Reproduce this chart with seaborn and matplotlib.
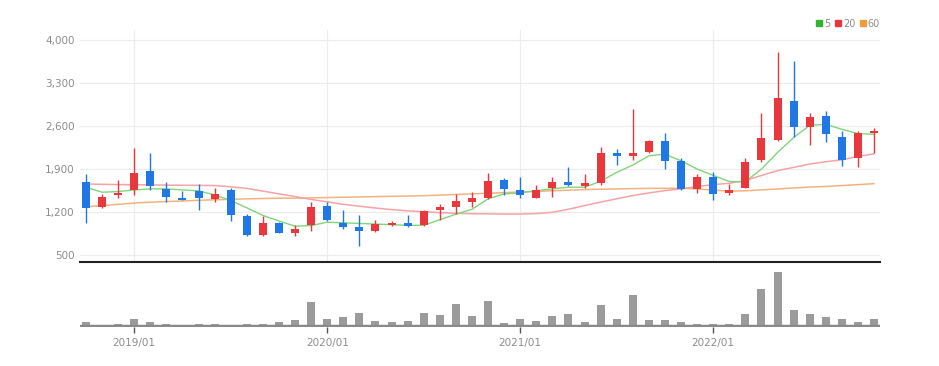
"""Monthly candlestick chart with moving averages and volume."""

import matplotlib

matplotlib.use("Agg")
import matplotlib.pyplot as plt
import numpy as np
import pandas as pd
import seaborn as sns
from matplotlib.lines import Line2D

months = [str(p).replace("-", "/") for p in pd.period_range("2018-10", periods=50, freq="M")]

open_ = [1690, 1285, 1485, 1560, 1875, 1575, 1425, 1550, 1420, 1555,
         1140, 830, 1030, 870, 1000, 1310, 1030, 965, 905, 995,
         1020, 990, 1230, 1285, 1375, 1430, 1730, 1555, 1435, 1590,
         1690, 1635, 1670, 2160, 2120, 2175, 2360, 2035, 1580, 1770,
         1510, 1595, 2050, 2375, 3015, 2590, 2765, 2415, 2080, 2495]
high = [1820, 1500, 1730, 2250, 2160, 1690, 1540, 1660, 1590, 1590,
        1175, 1140, 1040, 990, 1365, 1365, 1230, 1165, 1070, 1060,
        1165, 1240, 1340, 1500, 1525, 1840, 1760, 1770, 1650, 1770,
        1940, 1830, 2265, 2235, 2870, 2375, 2495, 2090, 1820, 1850,
        1660, 2090, 2820, 3810, 3650, 2805, 2845, 2520, 2520, 2575]
low = [1020, 1270, 1430, 1475, 1555, 1365, 1400, 1245, 1365, 1060,
       815, 815, 860, 815, 890, 1055, 935, 650, 880, 975,
       955, 975, 1070, 1180, 1285, 1420, 1475, 1435, 1435, 1445,
       1635, 1590, 1650, 1970, 2055, 2170, 1905, 1570, 1515, 1400,
       1475, 1590, 2020, 2360, 2425, 2295, 2345, 1955, 1940, 2160]
close = [1270, 1455, 1510, 1845, 1635, 1445, 1405, 1425, 1490, 1165,
         830, 1035, 865, 935, 1285, 1080, 955, 905, 1005, 1030,
         975, 1220, 1285, 1380, 1430, 1715, 1580, 1475, 1555, 1690,
         1650, 1670, 2160, 2120, 2160, 2360, 2035, 1580, 1770, 1500,
         1570, 2025, 2405, 3050, 2590, 2755, 2470, 2050, 2480, 2520]

ma5 = [1608, 1527, 1537, 1564, 1581, 1581, 1564, 1548, 1484, 1392,
       1274, 1150, 1060, 975, 985, 1040, 1030, 1020, 1010, 1000,
       990, 990, 1080, 1170, 1250, 1419, 1500, 1516, 1553, 1581,
       1608, 1608, 1705, 1850, 1968, 2118, 2145, 2037, 1903, 1800,
       1700, 1698, 1903, 2172, 2414, 2613, 2629, 2548, 2479, 2468]
ma20 = [1660, 1655, 1650, 1648, 1645, 1642, 1640, 1638, 1635, 1615,
        1590, 1545, 1500, 1457, 1410, 1370, 1330, 1300, 1270, 1245,
        1225, 1210, 1195, 1185, 1178, 1175, 1172, 1172, 1180, 1200,
        1250, 1310, 1366, 1420, 1473, 1515, 1553, 1581, 1620, 1650,
        1672, 1715, 1800, 1876, 1930, 1984, 2021, 2053, 2108, 2150]
ma60 = [1290, 1310, 1330, 1350, 1365, 1375, 1385, 1395, 1405, 1410,
        1420, 1425, 1430, 1430, 1435, 1440, 1445, 1450, 1455, 1460,
        1465, 1470, 1480, 1490, 1500, 1510, 1520, 1530, 1540, 1550,
        1560, 1570, 1575, 1580, 1585, 1590, 1590, 1590, 1580, 1560,
        1545, 1550, 1565, 1580, 1595, 1610, 1620, 1635, 1650, 1665]

volume = [40000, 5000, 23000, 67000, 37000, 23000, 3000, 17000, 17000, 3000,
          23000, 23000, 37000, 57000, 240000, 73000, 90000, 133000, 53000, 37000,
          53000, 133000, 107000, 223000, 100000, 250000, 33000, 73000, 50000, 100000,
          117000, 40000, 207000, 73000, 307000, 57000, 57000, 40000, 20000, 20000,
          20000, 123000, 373000, 540000, 157000, 123000, 90000, 67000, 40000, 73000]

year_ticks = ["2019/01", "2020/01", "2021/01", "2022/01"]
price_ticks = [500, 1200, 1900, 2600, 3300, 4000]

UP, DOWN = "#e8383d", "#1f78e6"
LABEL = "#8c8c8c"

sns.set_theme(style="white")
plt.rcParams["font.family"] = ["Liberation Sans Narrow", "DejaVu Sans"]

idx = np.arange(len(months))
df = pd.DataFrame({"i": idx, "open": open_, "high": high, "low": low,
                   "close": close, "ma5": ma5, "ma20": ma20, "ma60": ma60,
                   "volume": volume})
up = df["close"] >= df["open"]
colors = np.where(up, UP, DOWN)

W, H = 939, 366
fig = plt.figure(figsize=(W / 100, H / 100), dpi=100)
left, right = 80 / W, 880 / W
ax = fig.add_axes([left, (H - 262) / H, right - left, (262 - 30) / H])
axv = fig.add_axes([left, (H - 327) / H, right - left, (327 - 264) / H])

xlim = (-0.37, len(months) - 1 + 0.37)
tick_pos = [months.index(m) for m in year_ticks]

# price panel
for y in price_ticks:
    ax.axhline(y, color="#ececec", lw=0.8, zorder=0)
for x in tick_pos:
    ax.axvline(x, color="#ececec", lw=0.8, zorder=0)

sns.lineplot(x=df["i"], y=df["ma60"], ax=ax, color="#f6b27c", lw=1.1, zorder=2)
sns.lineplot(x=df["i"], y=df["ma20"], ax=ax, color="#f4a3a6", lw=1.1, zorder=2)
sns.lineplot(x=df["i"], y=df["ma5"], ax=ax, color="#7fd67a", lw=1.0, zorder=2)

ax.vlines(df["i"], df["low"], df["high"], colors=colors, lw=1.0, zorder=3)
body_low = np.minimum(df["open"], df["close"])
body_h = np.maximum(np.abs(df["close"] - df["open"]), 18)
ax.bar(df["i"], body_h, bottom=body_low, width=0.5, color=colors, lw=0, zorder=4)

ax.set_xlim(*xlim)
ax.set_ylim(394, 4160)
ax.set_yticks(price_ticks)
ax.set_yticklabels([f"{v:,}" for v in price_ticks])
ax.set_xticks([])
ax.tick_params(axis="y", length=0, pad=4, labelsize=7.5, labelcolor=LABEL)
ax.set_xlabel("")
ax.set_ylabel("")
for side in ["top", "left", "right"]:
    ax.spines[side].set_visible(False)
ax.spines["bottom"].set_color("#222222")
ax.spines["bottom"].set_linewidth(1.5)

# volume panel
sns.barplot(x=df["i"], y=df["volume"], ax=axv, color="#9b9b9b",
            saturation=1, width=0.5, linewidth=0)
axv.axhline(0, color="#8a8a8a", lw=2.5, zorder=5)
axv.set_xlim(*xlim)
axv.set_ylim(-12000, 618000)
axv.set_yticks([])
axv.set_xticks(tick_pos)
axv.set_xticklabels(year_ticks)
axv.tick_params(axis="x", length=4, width=1, color="#555555", pad=4,
                labelsize=7.5, labelcolor=LABEL, bottom=True)
axv.set_xlabel("")
axv.set_ylabel("")
for side in ["top", "left", "right", "bottom"]:
    axv.spines[side].set_visible(False)

handles = [Line2D([], [], marker="s", ls="", color=c, markersize=4)
           for c in ["#2fb52f", "#e8383d", "#f39a3a"]]
fig.legend(handles, ["5", "20", "60"], loc="upper right",
           bbox_to_anchor=(884 / W, 1 - 15 / H), ncol=3, frameon=False,
           fontsize=7, handlelength=0.6, handletextpad=0.2,
           columnspacing=0.5, labelcolor=LABEL, borderaxespad=0)

fig.savefig("out.png", dpi=100)
plt.close(fig)
